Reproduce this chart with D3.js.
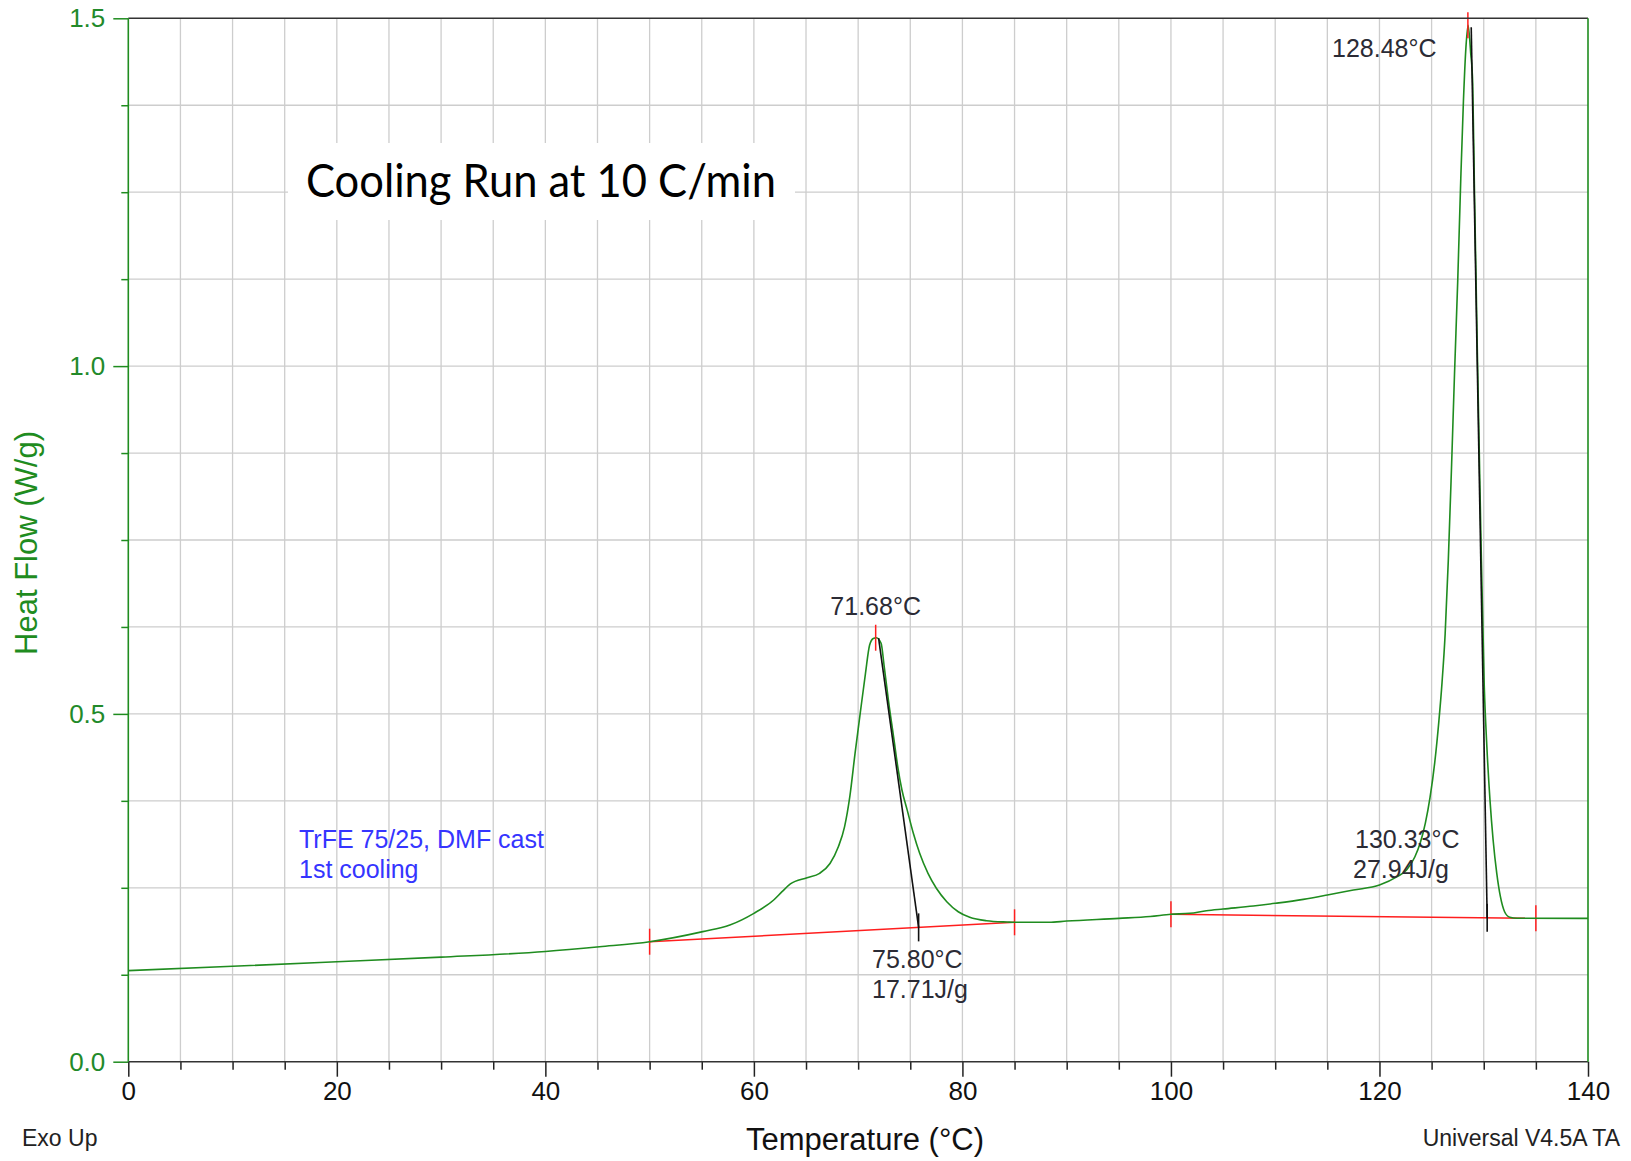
<!DOCTYPE html>
<html>
<head>
<meta charset="utf-8">
<script src="https://cdn.jsdelivr.net/npm/d3@7"></script>
<style>
  html, body { margin: 0; padding: 0; background: #fff; }
  svg { display: block; }
  text { font-family: "Liberation Sans", Arial, sans-serif; }
</style>
</head>
<body>
<svg id="chart" width="1631" height="1161"></svg>
<script>
// DSC cooling trace: temperature (°C) vs heat flow (W/g)
const temperature = [
  0, 10, 20, 30, 40, 45.2, 50, 55.1, 57.7, 60.0, 61.9, 62.7, 63.5, 65.1, 66.3,
  67.3, 68.1, 68.7, 69.2, 69.7, 70.2, 70.7, 71.1, 71.45, 71.75, 72.2, 72.5, 72.9,
  73.4, 73.8, 74.2, 74.7, 75.3, 75.9, 76.7, 77.5, 78.5, 79.6, 80.7, 82.3, 84.3,
  85, 88.3, 90, 95, 98, 100, 101.8, 103.4, 105, 107.9, 110, 112.7, 115, 117.5,
  120, 121.7, 122.6, 123.4, 123.9, 124.4, 124.85, 125.3, 125.7, 126.0, 126.3,
  126.6, 126.9, 127.2, 127.5, 127.8, 128.05, 128.3, 128.5, 128.75, 128.94, 129.1,
  129.39, 129.7, 130.05, 130.3, 130.6, 130.9, 131.25, 131.6, 132.0, 132.5, 133.2, 140
];
const heatFlow = [
  0.131, 0.1372, 0.1437, 0.1503, 0.1585, 0.1653, 0.1725, 0.187, 0.1965, 0.2133,
  0.2325, 0.2444, 0.2555, 0.2645, 0.2708, 0.285, 0.309, 0.338, 0.381, 0.443,
  0.501, 0.558, 0.599, 0.6085, 0.6095, 0.6015, 0.568, 0.52, 0.467, 0.424, 0.3906,
  0.362, 0.328, 0.2996, 0.2708, 0.2493, 0.23, 0.2156, 0.2076, 0.2027, 0.2008,
  0.2004, 0.2004, 0.2022, 0.2061, 0.2088, 0.2119, 0.2133, 0.217, 0.2195, 0.2238,
  0.2277, 0.2334, 0.2396, 0.2468, 0.254, 0.266, 0.2756, 0.2947, 0.314, 0.343,
  0.38, 0.43, 0.49, 0.545, 0.615, 0.72, 0.85, 0.99, 1.12, 1.27, 1.38, 1.46, 1.49,
  1.45, 1.4076, 1.262, 1.018, 0.777, 0.54, 0.4529, 0.376, 0.3187, 0.2708, 0.2372,
  0.2156, 0.2076, 0.2063, 0.2061
];

// Integration baselines: [start T, start W/g, end T, end W/g]
const baselines = [
  [50, 0.1725, 85, 0.2004],
  [100, 0.2119, 135, 0.2061]
];
// Peak maxima: [T, W/g]
const peaks = [
  [71.68, 0.6095],
  [128.48, 1.49]
];
// Onset tangents: [from T, from W/g, onset T, onset W/g]
const tangents = [
  [71.96, 0.609, 75.80, 0.1931],
  [128.8, 1.487, 130.33, 0.2069]
];
// Annotation texts
const peakLabels = ["71.68°C", "128.48°C"];
const onsetLabels = [["75.80°C", "17.71J/g"], ["130.33°C", "27.94J/g"]];
const sampleLabel = ["TrFE 75/25, DMF cast", "1st cooling"];
const titleText = "Cooling Run at 10 C/min";

const xMajor = [0, 20, 40, 60, 80, 100, 120, 140];
const yMajor = [0, 0.5, 1.0, 1.5];

const svg = d3.select("#chart");
const GREEN = "#1f8c1f";
const RED = "#ff1e1e";

const x = d3.scaleLinear().domain([0, 140]).range([128.3, 1588]);
const y = d3.scaleLinear().domain([0, 1.5]).range([1061.7, 18.3]);

const xMinor = d3.range(0, 140.01, 5);
const yMinor = d3.range(0, 1.5001, 0.125);

// grid
const grid = svg.append("g").attr("stroke", "#cdcdcd").attr("stroke-width", 1.3);
grid.selectAll("line.v").data(xMinor.filter(d => d > 0 && d < 140)).join("line")
  .attr("x1", d => x(d)).attr("x2", d => x(d))
  .attr("y1", y(1.5)).attr("y2", y(0));
grid.selectAll("line.h").data(yMinor.filter(d => d > 0 && d < 1.5)).join("line")
  .attr("x1", x(0)).attr("x2", x(140))
  .attr("y1", d => y(d)).attr("y2", d => y(d));

// title with a white panel behind it
svg.append("rect").attr("x", 288).attr("y", 143).attr("width", 507).attr("height", 77)
  .attr("fill", "#fff");
svg.append("text").attr("x", 306).attr("y", 197)
  .style("font-family", "Lato, 'Open Sans', sans-serif")
  .attr("font-size", 46).attr("fill", "#000")
  .attr("textLength", 470).attr("lengthAdjust", "spacingAndGlyphs")
  .text(titleText);

// baselines
const bl = svg.append("g").attr("stroke", RED).attr("stroke-width", 1.5).attr("fill", "none");
baselines.forEach(b => {
  bl.append("line").attr("x1", x(b[0])).attr("y1", y(b[1])).attr("x2", x(b[2])).attr("y2", y(b[3]));
  [[b[0], b[1]], [b[2], b[3]]].forEach(p => {
    bl.append("line").attr("x1", x(p[0])).attr("x2", x(p[0]))
      .attr("y1", y(p[1]) - 13).attr("y2", y(p[1]) + 13);
  });
});

// heat flow curve
const pts = temperature.map((t, i) => [t, heatFlow[i]]);
const line = d3.line().x(d => x(d[0])).y(d => y(d[1])).curve(d3.curveMonotoneX);
svg.append("path").datum(pts).attr("d", line)
  .attr("fill", "none").attr("stroke", GREEN).attr("stroke-width", 1.6);

// peak markers
peaks.forEach(p => {
  svg.append("line").attr("x1", x(p[0])).attr("x2", x(p[0]))
    .attr("y1", y(p[1]) - 13).attr("y2", y(p[1]) + 13)
    .attr("stroke", RED).attr("stroke-width", 1.5);
});

// onset tangents
tangents.forEach(t => {
  svg.append("line").attr("x1", x(t[0])).attr("y1", y(t[1])).attr("x2", x(t[2])).attr("y2", y(t[3]))
    .attr("stroke", "#111").attr("stroke-width", 1.6);
  svg.append("line").attr("x1", x(t[2])).attr("x2", x(t[2]))
    .attr("y1", y(t[3]) - 14).attr("y2", y(t[3]) + 14)
    .attr("stroke", "#111").attr("stroke-width", 1.6);
});

// axes
const yAxis = d3.axisLeft(y).tickValues(yMajor).tickFormat(d3.format(".1f"))
  .tickSize(15).tickPadding(8);
const yAxisG = svg.append("g").attr("transform", `translate(${x(0)},0)`).call(yAxis);
yAxisG.select(".domain").remove();
yAxisG.selectAll("line").attr("stroke", GREEN).attr("stroke-width", 1.5);
yAxisG.selectAll("text").attr("font-size", 26).attr("fill", "#228a2a")
  .style("font-family", "'Liberation Sans', Arial, sans-serif");
const yMinorG = svg.append("g").attr("transform", `translate(${x(0)},0)`)
  .call(d3.axisLeft(y).tickValues(yMinor.filter(v => !yMajor.includes(v))).tickSize(7).tickFormat(""));
yMinorG.select(".domain").remove();
yMinorG.selectAll("line").attr("stroke", GREEN).attr("stroke-width", 1.5);

const xAxis = d3.axisBottom(x).tickValues(xMajor).tickFormat(d3.format("d"))
  .tickSize(15).tickPadding(5);
const xAxisG = svg.append("g").attr("transform", `translate(0,${y(0)})`).call(xAxis);
xAxisG.select(".domain").remove();
xAxisG.selectAll("line").attr("stroke", "#222").attr("stroke-width", 1.5);
xAxisG.selectAll("text").attr("font-size", 26).attr("fill", "#111")
  .style("font-family", "'Liberation Sans', Arial, sans-serif");
const xMinorG = svg.append("g").attr("transform", `translate(0,${y(0)})`)
  .call(d3.axisBottom(x).tickValues(xMinor.filter(v => !xMajor.includes(v))).tickSize(8).tickFormat(""));
xMinorG.select(".domain").remove();
xMinorG.selectAll("line").attr("stroke", "#222").attr("stroke-width", 1.5);

// frame
svg.append("line").attr("x1", x(0)).attr("x2", x(140)).attr("y1", y(1.5)).attr("y2", y(1.5))
  .attr("stroke", "#333").attr("stroke-width", 1.6);
svg.append("line").attr("x1", x(0)).attr("x2", x(140)).attr("y1", y(0)).attr("y2", y(0))
  .attr("stroke", "#333").attr("stroke-width", 1.6);
svg.append("line").attr("x1", x(0)).attr("x2", x(0)).attr("y1", y(1.5)).attr("y2", y(0))
  .attr("stroke", GREEN).attr("stroke-width", 1.6);
svg.append("line").attr("x1", x(140)).attr("x2", x(140)).attr("y1", y(1.5)).attr("y2", y(0))
  .attr("stroke", GREEN).attr("stroke-width", 1.6);

// axis titles
svg.append("text").attr("x", 865).attr("y", 1150).attr("text-anchor", "middle")
  .attr("font-size", 31).attr("fill", "#111").text("Temperature (°C)");
svg.append("text").attr("transform", "translate(37,543) rotate(-90)").attr("text-anchor", "middle")
  .attr("font-size", 31).attr("fill", "#1f8c1f").text("Heat Flow (W/g)");

// annotations
const ann = svg.append("g").attr("font-size", 25).attr("fill", "#2b2b35");
ann.append("text").attr("x", x(peaks[0][0])).attr("y", 615).attr("text-anchor", "middle").text(peakLabels[0]);
ann.append("text").attr("x", 1332).attr("y", 57).text(peakLabels[1]);
ann.append("text").attr("x", 872).attr("y", 968).text(onsetLabels[0][0]);
ann.append("text").attr("x", 872).attr("y", 998).text(onsetLabels[0][1]);
ann.append("text").attr("x", 1355).attr("y", 848).text(onsetLabels[1][0]);
ann.append("text").attr("x", 1353).attr("y", 878).text(onsetLabels[1][1]);

const blue = svg.append("g").attr("font-size", 25).attr("fill", "#3535ff");
blue.append("text").attr("x", 299).attr("y", 848).text(sampleLabel[0]);
blue.append("text").attr("x", 299).attr("y", 878).text(sampleLabel[1]);

// footer
svg.append("text").attr("x", 22).attr("y", 1146).attr("font-size", 23).attr("fill", "#222").text("Exo Up");
svg.append("text").attr("x", 1620).attr("y", 1146).attr("text-anchor", "end")
  .attr("font-size", 23).attr("fill", "#222").text("Universal V4.5A TA");
</script>
</body>
</html>
